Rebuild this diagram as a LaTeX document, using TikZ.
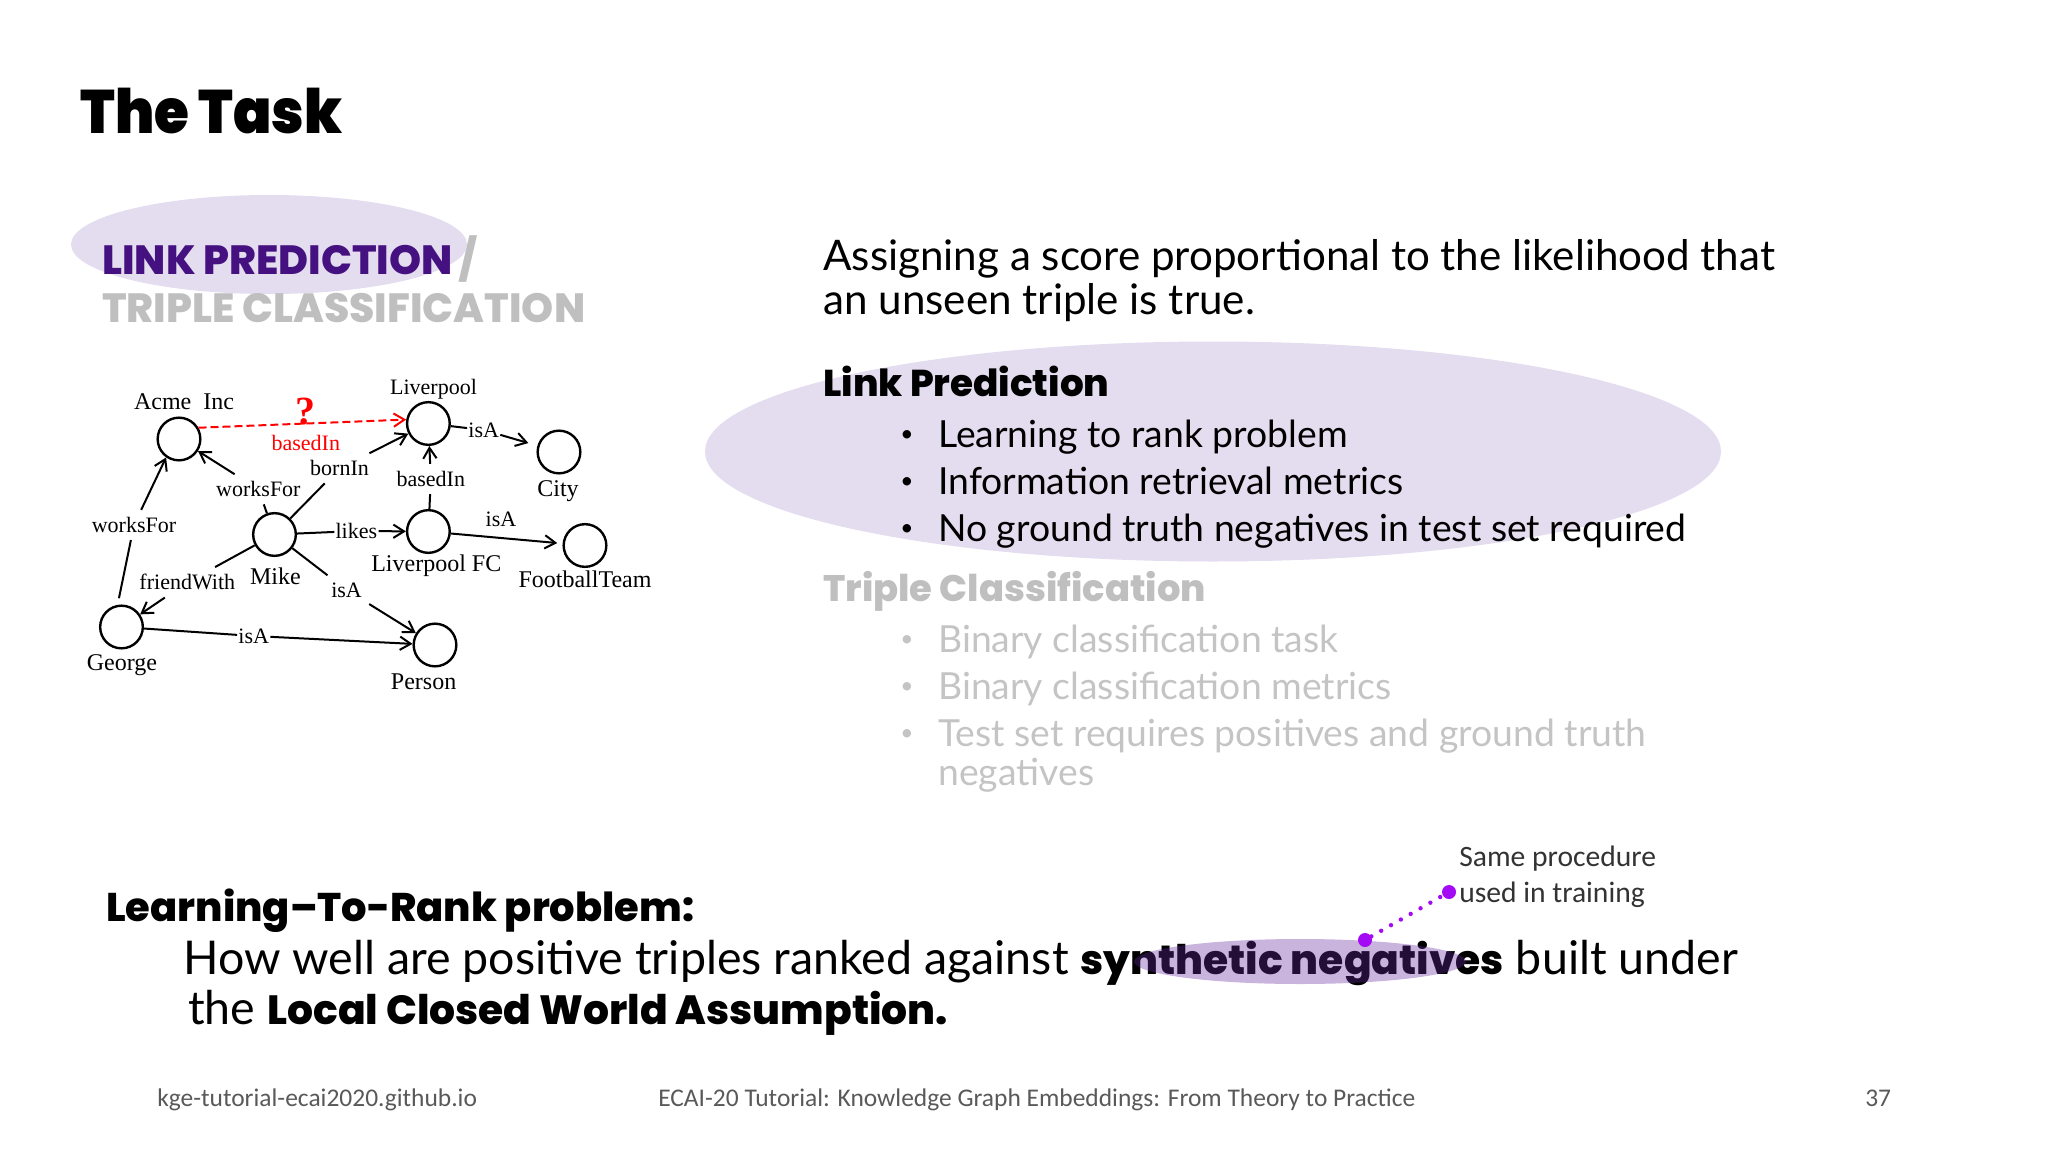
\documentclass[tikz,border=0pt]{standalone}
\usepackage{fontspec}
\usetikzlibrary{arrows.meta}
\setmainfont{Lato}
\newfontfamily\heavyfont{Poppins}[UprightFont=* ExtraBold]
\newfontfamily\titlefont{Poppins}[UprightFont=* Black,FakeStretch=0.92]
\newfontfamily\graphfont{Liberation Serif}
\newfontfamily\notefont{Carlito}
\definecolor{softpurple}{RGB}{228,220,239}
\definecolor{deeppurple}{RGB}{69,16,127}
\definecolor{markpurple}{RGB}{101,41,161}
\definecolor{dotpurple}{RGB}{163,11,245}
\definecolor{fadegrey}{RGB}{191,191,191}
\definecolor{bodygrey}{RGB}{196,196,196}
\definecolor{notegrey}{RGB}{89,89,89}
\newcommand{\heavytext}[1]{{\heavyfont\fontsize{30.6}{32}\selectfont #1}}
\tikzset{
  textline/.style={anchor=base west,inner sep=0pt},
  bodytext/.style={textline,font=\fontsize{28}{30}\selectfont},
  bodyfade/.style={bodytext,text=bodygrey},
  bulletdot/.style={textline,font=\fontsize{17}{20}\selectfont},
  introtext/.style={textline,font=\fontsize{31.6}{34}\selectfont},
  ranktext/.style={textline,font=\fontsize{34.9}{36}\selectfont},
  headtext/.style={textline,font=\heavyfont\fontsize{30.6}{32}\selectfont},
  subhead/.style={textline,font=\heavyfont\fontsize{28}{30}\selectfont},
  foottext/.style={textline,text=notegrey,font=\notefont\fontsize{19.1}{21}\selectfont},
  notetext/.style={textline,text=black!80,font=\notefont\fontsize{22.2}{24}\selectfont},
  entity/.style={circle,draw,line width=1.8pt,minimum size=32pt,inner sep=0pt},
  reltag/.style={inner sep=1pt,outer sep=4.5pt,font=\graphfont\fontsize{16.5}{18}\selectfont},
  tighttag/.style={reltag,outer sep=0pt},
  entname/.style={inner sep=0pt,font=\graphfont\fontsize{18}{20}\selectfont},
  relline/.style={line width=1.5pt},
  relarrow/.style={relline,-{Straight Barb[length=8pt,width=10pt,line width=1.5pt]}},
  pindot/.style={circle,fill=dotpurple,minimum size=10.5pt,inner sep=0pt}
}
\begin{document}
\begin{tikzpicture}[x=0.75pt,y=0.75pt,yscale=-1,xscale=1]
\path[use as bounding box] (0,0) rectangle (2048,1152);

%Shape: Ellipse
\fill [softpurple] (269,244.5) ellipse (198 and 49.5);
\fill [softpurple] (1213,451.5) ellipse (508 and 110);

%Title
\node [textline,font=\titlefont\fontsize{46}{50}\selectfont] (title) at (80,134) {The Task};

%Left heading
\node [headtext,text=deeppurple] (linkhead) at (102,274) {LINK PREDICTION};
\node [headtext,text=fadegrey] (slash) at (459,274) {/};
\node [headtext,text=fadegrey] (triplehead) at (102,322) {TRIPLE CLASSIFICATION};

%Right column
\node [introtext] (intro1) at (823,270) {Assigning a score proportional to the likelihood that};
\node [introtext] (intro2) at (823,314) {an unseen triple is true.};
\node [subhead] (linktitle) at (823,396) {Link Prediction};
\node [bulletdot] (bullet1) at (900,441) {•};
\node [bodytext] (link1) at (938,447) {Learning to rank problem};
\node [bulletdot] (bullet2) at (900,488) {•};
\node [bodytext] (link2) at (938,494) {Information retrieval metrics};
\node [bulletdot] (bullet3) at (900,535) {•};
\node [bodytext] (link3) at (938,541) {No ground truth negatives in test set required};
\node [subhead,text=fadegrey,font=\heavyfont\fontsize{27.7}{30}\selectfont] (tripletitle) at (823,601) {Triple Classification};
\node [bulletdot,text=bodygrey] (bullet4) at (900,646) {•};
\node [bodyfade] (triple1) at (938,652) {Binary classification task};
\node [bulletdot,text=bodygrey] (bullet5) at (900,693) {•};
\node [bodyfade] (triple2) at (938,699) {Binary classification metrics};
\node [bulletdot,text=bodygrey] (bullet6) at (900,740) {•};
\node [bodyfade] (triple3) at (938,746) {Test set requires positives and ground truth};
\node [bodyfade] (triple4) at (938,785) {negatives};

%Bottom text
\node [textline,font=\heavyfont\fontsize{30}{32}\selectfont] (ranktitle) at (106,921) {Learning–To-Rank problem:};
\node [ranktext] (rank1) at (183,974) {How well are positive triples ranked against \heavytext{synthetic negatives} built under};
\node [ranktext] (rank2) at (188,1024) {the \heavytext{Local Closed World Assumption.}};

%Shape: Ellipse
\fill [markpurple,fill opacity=0.35] (1300,961.5) ellipse (166 and 22.5);

%Side note
\node [notetext] (note1) at (1459,866) {Same procedure};
\node [notetext] (note2) at (1459,902) {used in training};
\node [pindot] (pinlow) at (1365,940) {};
\node [pindot] (pinhigh) at (1449,892) {};
\draw [dotpurple,line width=3.3pt,line cap=round,dash pattern=on 0pt off 8.5pt] (pinlow) -- (pinhigh);

%Graph entities
\node [entity] (acme) at (179,439) {};
\node [entity] (liverpool) at (428.4,423.5) {};
\node [entity] (city) at (559,452) {};
\node [entity] (mike) at (274.5,534.5) {};
\node [entity] (livfc) at (428.4,531.5) {};
\node [entity] (team) at (585,545.5) {};
\node [entity] (george) at (121.5,627) {};
\node [entity] (person) at (435,645) {};

%Graph names
\node [entname] (acmename) at (184,401.7) {Acme\ \ Inc};
\node [entname,font=\graphfont\fontsize{16.5}{18}\selectfont] (liverpoolname) at (433.5,389) {Liverpool};
\node [entname] (cityname) at (558,491) {City};
\node [entname] (mikename) at (275.4,576.7) {Mike};
\node [entname] (livfcname) at (436.3,566) {Liverpool FC};
\node [entname] (teamname) at (585,579) {FootballTeam};
\node [entname] (georgename) at (122,665) {George};
\node [entname] (personname) at (423.6,681.7) {Person};

%Graph relations
\node [reltag] (worksleft) at (134,525) {worksFor};
\node [reltag] (worksmid) at (258.4,489.3) {worksFor};
\node [reltag] (born) at (339.5,468.3) {bornIn};
\node [reltag] (based) at (430.8,479) {basedIn};
\node [tighttag] (likes) at (356.4,531) {likes};
\node [tighttag] (isacity) at (483.7,430) {isA};
\node [reltag] (isateam) at (501,519.3) {isA};
\node [reltag] (friend) at (187.3,582.3) {friendWith};
\node [reltag] (isamike) at (346.6,590) {isA};
\node [tighttag] (isageorge) at (253.7,636) {isA};
\node [reltag,text=red] (basedred) at (305.8,442.7) {basedIn};
\node [inner sep=0pt,text=red,font=\graphfont\bfseries\fontsize{30}{30}\selectfont] (query) at (305.8,412) {?};

\draw [relline,shorten <=5pt] (george.100) -- (worksleft);
\draw [relarrow] (worksleft) -- (acme.235);
\draw [relline] (mike) -- (worksmid);
\draw [relarrow] (worksmid) -- (acme);
\draw [relline] (mike) -- (born);
\draw [relarrow] (born) -- (liverpool);
\draw [relline] (livfc) -- (based);
\draw [relarrow] (based) -- (liverpool);
\draw [relline] (mike) -- (likes);
\draw [relarrow] (likes) -- (livfc);
\draw [relline] (liverpool) -- (isacity);
\draw [relarrow,shorten >=7pt] (isacity) -- (city);
\draw [relarrow,shorten >=4pt] (livfc) -- (team);
\draw [relline] (mike) -- (friend);
\draw [relarrow] (friend) -- (george);
\draw [relline] (mike) -- (isamike);
\draw [relarrow] (isamike) -- (person);
\draw [relline] (george) -- (isageorge);
\draw [relarrow] (isageorge) -- (person);
\draw [relarrow,red,dash pattern=on 6pt off 3pt] (acme.30) -- (liverpool.170);

%Footer
\node [foottext] (footleft) at (157,1106) {kge-tutorial-ecai2020.github.io};
\node [foottext] (footmid) at (658,1106) {ECAI-20 Tutorial: Knowledge Graph Embeddings: From Theory to Practice};
\node [foottext] (footpage) at (1865,1106) {37};
\end{tikzpicture}
\end{document}
